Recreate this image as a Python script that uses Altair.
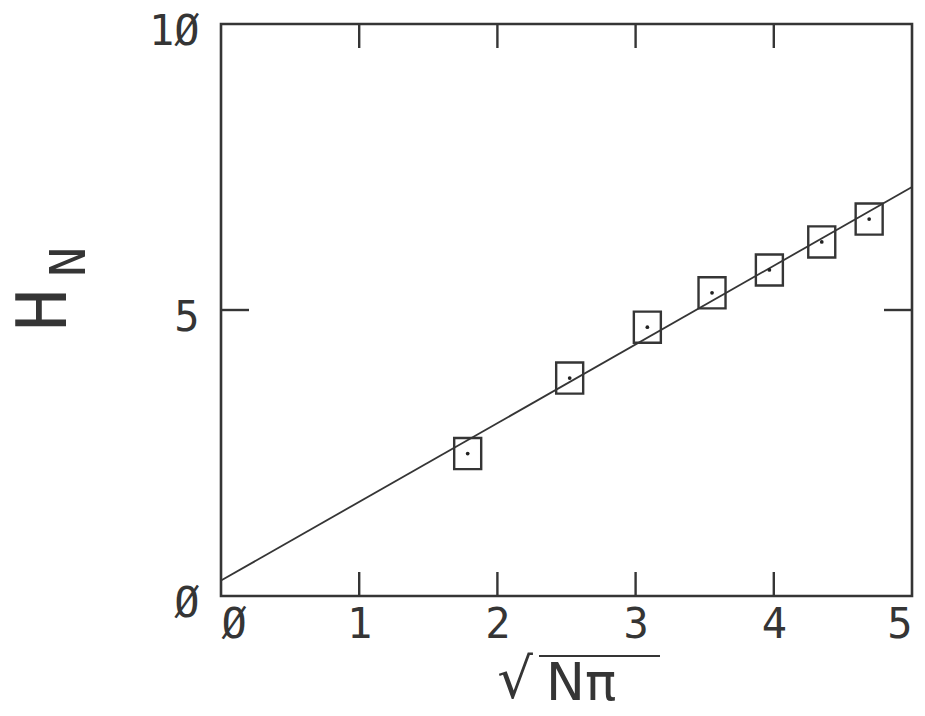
import altair as alt
import pandas as pd

# data
x_pts = [1.785, 2.523, 3.085, 3.553, 3.968, 4.347, 4.69]
y_pts = [2.49, 3.81, 4.70, 5.30, 5.70, 6.19, 6.59]
x_fit = [0.0, 5.0]
y_fit = [0.27, 7.15]
x_tick_vals = [0, 1, 2, 3, 4, 5]
y_tick_vals = [0, 5, 10]
x_inner_ticks = [1, 2, 3, 4]
y_inner_ticks = [5]

W, H = 691, 572
INK = "#353535"

pts = pd.DataFrame({"x": x_pts, "y": y_pts})
fit = pd.DataFrame({"x": x_fit, "y": y_fit})
xt = pd.DataFrame({"x": x_inner_ticks})
yt = pd.DataFrame({"y": y_inner_ticks})

xscale = alt.Scale(domain=[0, 5], nice=False, zero=False)
yscale = alt.Scale(domain=[0, 10], nice=False, zero=False)

xaxis = alt.Axis(values=x_tick_vals, domain=False, ticks=False, grid=False, format="d",
                 labelExpr="datum.value == 0 ? 'Ø' : datum.label",
                 labelPadding=8, title=None, labelAngle=0)
yaxis = alt.Axis(values=y_tick_vals, domain=False, ticks=False, grid=False, format="d",
                 labelExpr="datum.value == 0 ? 'Ø' : (datum.value == 10 ? '1Ø' : datum.label)",
                 labelPadding=22, labelOffset=7, title=None)

line = alt.Chart(fit).mark_line(color=INK, strokeWidth=1.8).encode(
    x=alt.X("x:Q", scale=xscale, axis=xaxis),
    y=alt.Y("y:Q", scale=yscale, axis=yaxis),
)

boxes = alt.Chart(pts).mark_point(
    shape="M-1,-1.15L1,-1.15L1,1.15L-1,1.15Z", size=729, filled=False,
    stroke=INK, strokeWidth=2.4, opacity=1,
).encode(x=alt.X("x:Q", scale=xscale), y=alt.Y("y:Q", scale=yscale))

dots = alt.Chart(pts).mark_circle(size=14, color="#222", opacity=1).encode(
    x=alt.X("x:Q", scale=xscale), y=alt.Y("y:Q", scale=yscale))

tick_top = alt.Chart(xt).mark_rule(color=INK, strokeWidth=2.4).encode(
    x=alt.X("x:Q", scale=xscale), y=alt.value(0), y2=alt.value(24))
tick_bot = alt.Chart(xt).mark_rule(color=INK, strokeWidth=2.4).encode(
    x=alt.X("x:Q", scale=xscale), y=alt.value(H), y2=alt.value(H - 24))
tick_left = alt.Chart(yt).mark_rule(color=INK, strokeWidth=2.4).encode(
    y=alt.Y("y:Q", scale=yscale), x=alt.value(0), x2=alt.value(28))
tick_right = alt.Chart(yt).mark_rule(color=INK, strokeWidth=2.4).encode(
    y=alt.Y("y:Q", scale=yscale), x=alt.value(W), x2=alt.value(W - 28))

# axis titles
x_root = alt.Chart(pd.DataFrame({"t": ["√"]})).mark_text(
    font="DejaVu Sans", fontSize=56, color=INK, align="center", baseline="alphabetic"
).encode(text="t:N", x=alt.value(294), y=alt.value(674))
x_body = alt.Chart(pd.DataFrame({"t": ["Nπ"]})).mark_text(
    font="DejaVu Sans", fontSize=52, color=INK, align="left", baseline="alphabetic"
).encode(text="t:N", x=alt.value(325), y=alt.value(676))
x_bar = alt.Chart(pd.DataFrame({"t": ["bar"]})).mark_rule(color=INK, strokeWidth=2).encode(
    x=alt.value(318), x2=alt.value(439), y=alt.value(632))

y_h = alt.Chart(pd.DataFrame({"t": ["H"]})).mark_text(
    font="DejaVu Sans Mono", fontSize=70, color=INK, align="center", baseline="middle", angle=270
).encode(text="t:N", x=alt.value(-176), y=alt.value(286))
y_n = alt.Chart(pd.DataFrame({"t": ["N"]})).mark_text(
    font="DejaVu Sans Mono", fontSize=50, color=INK, align="center", baseline="middle", angle=270
).encode(text="t:N", x=alt.value(-151), y=alt.value(238))

chart = alt.layer(
    line, boxes, dots, tick_top, tick_bot, tick_left, tick_right,
    x_root, x_body, x_bar, y_h, y_n,
).properties(
    width=W, height=H,
    autosize=alt.AutoSizeParams(type="none"),
    padding={"left": 221, "top": 24, "right": 13, "bottom": 120},
    background="white",
).configure_view(
    stroke=INK, strokeWidth=2.6,
).configure_axis(
    labelFont="DejaVu Sans Mono", labelFontSize=42, labelColor=INK,
)

chart.save("out.html", embed_options={"renderer": "svg", "actions": False})
